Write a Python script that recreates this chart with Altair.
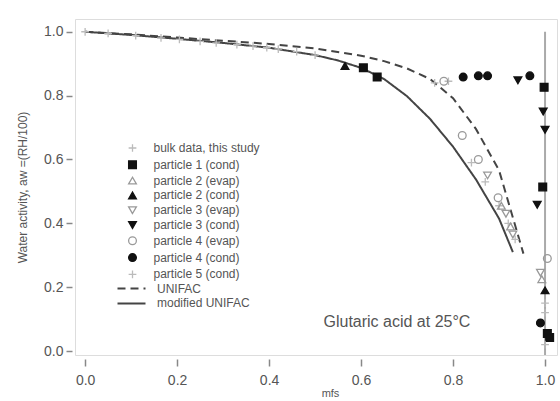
import altair as alt
import pandas as pd

# ---------------- data ----------------
series_order = [
    "bulk data, this study", "particle 1 (cond)", "particle 2 (evap)",
    "particle 2 (cond)", "particle 3 (evap)", "particle 3 (cond)",
    "particle 4 (evap)", "particle 4 (cond)", "particle 5 (cond)",
]

bulk_x = [0.0, 0.05, 0.11, 0.165, 0.205, 0.25, 0.285, 0.33, 0.365, 0.395, 0.42, 0.46, 0.50, 0.76, 0.79, 0.84, 0.87, 0.90, 0.92, 0.935, 1.0]
bulk_y = [1.0, 0.995, 0.988, 0.981, 0.976, 0.970, 0.965, 0.960, 0.955, 0.950, 0.946, 0.938, 0.927, 0.840, 0.845, 0.590, 0.530, 0.455, 0.400, 0.350, 0.150]

p1c_x = [0.605, 0.635, 0.998, 0.995, 1.005, 1.01]
p1c_y = [0.887, 0.858, 0.826, 0.514, 0.055, 0.042]

p2e_x = [0.905, 0.925, 0.993]
p2e_y = [0.455, 0.390, 0.225]

p2c_x = [0.565, 1.0]
p2c_y = [0.893, 0.190]

p3e_x = [0.875, 0.915, 0.93, 0.99]
p3e_y = [0.550, 0.430, 0.365, 0.245]

p3c_x = [0.941, 0.996, 1.0, 0.983]
p3c_y = [0.848, 0.750, 0.693, 0.458]

p4e_x = [0.78, 0.82, 0.855, 0.898, 1.005]
p4e_y = [0.845, 0.675, 0.600, 0.480, 0.290]

p4c_x = [0.822, 0.855, 0.875, 0.967, 0.99]
p4c_y = [0.858, 0.862, 0.862, 0.862, 0.088]

p5c_x = [1.0, 1.0]
p5c_y = [0.120, 0.020]

unifac_x = [0.0, 0.1, 0.2, 0.3, 0.4, 0.5, 0.6, 0.65, 0.7, 0.75, 0.8, 0.85, 0.9, 0.953]
unifac_y = [1.0, 0.992, 0.982, 0.972, 0.962, 0.948, 0.925, 0.908, 0.885, 0.852, 0.792, 0.695, 0.566, 0.305]

mod_x = [0.0, 0.1, 0.2, 0.3, 0.4, 0.5, 0.55, 0.6, 0.65, 0.7, 0.75, 0.8, 0.85, 0.9, 0.93]
mod_y = [1.0, 0.99, 0.978, 0.965, 0.950, 0.927, 0.910, 0.887, 0.852, 0.798, 0.727, 0.640, 0.537, 0.415, 0.310]

line_order = ["UNIFAC", "modified UNIFAC"]

annotation_text = ["Glutaric acid at 25°C"]
annotation_x = [0.678]
annotation_y = [0.091]

x_ticks = [0.0, 0.2, 0.4, 0.6, 0.8, 1.0]
y_ticks = [0.0, 0.2, 0.4, 0.6, 0.8, 1.0]
x_domain = [-0.022, 1.026]
y_domain = [-0.0125, 1.04]
vline_x = [1.0]

# ---------------- tables ----------------
series_xy = [
    (bulk_x, bulk_y), (p1c_x, p1c_y), (p2e_x, p2e_y), (p2c_x, p2c_y),
    (p3e_x, p3e_y), (p3c_x, p3c_y), (p4e_x, p4e_y), (p4c_x, p4c_y), (p5c_x, p5c_y),
]
rows = []
for name, (xs, ys) in zip(series_order, series_xy):
    for xv, yv in zip(xs, ys):
        rows.append({"series": name, "mfs": xv, "aw": yv})
pts = pd.DataFrame(rows)

lrows = []
for xv, yv in zip(unifac_x, unifac_y):
    lrows.append({"model": "UNIFAC", "mfs": xv, "aw": yv})
for xv, yv in zip(mod_x, mod_y):
    lrows.append({"model": "modified UNIFAC", "mfs": xv, "aw": yv})
lines_df = pd.DataFrame(lrows)

ann = pd.DataFrame({"t": annotation_text, "mfs": annotation_x, "aw": annotation_y})
vline = pd.DataFrame({"mfs": vline_x, "top": [1.0], "bot": [y_domain[0]]})

plus = "M-1,0L1,0M0,-1L0,1"
shape_range = [plus, "square", "triangle-up", "triangle-up", "triangle-down",
               "triangle-down", "circle", "circle", plus]
fill_range = ["transparent", "#111", "transparent", "#111", "transparent",
              "#111", "transparent", "#111", "transparent"]
stroke_range = ["#bbb", "#111", "#999", "#111", "#999", "#111", "#999", "#111", "#bbb"]

FONT = "Liberation Sans"
TXT = "#555"

xscale = alt.Scale(domain=x_domain, nice=False, zero=False)
yscale = alt.Scale(domain=y_domain, nice=False, zero=False)

xaxis = alt.Axis(values=x_ticks, format=".1f", title="mfs", grid=False, domain=False,
                 ticks=True, tickSize=7, tickColor="#888", tickWidth=1.5, offset=4,
                 labelPadding=7, labelFontSize=14, labelColor=TXT, labelFont=FONT,
                 titleFontSize=11, titleColor=TXT, titleFont=FONT, titleFontWeight="normal",
                 titleX=255, titleY=34, titleBaseline="middle")
yaxis = alt.Axis(values=y_ticks, format=".1f",
                 title="Water activity, aw =(RH/100)", grid=False, domain=False,
                 ticks=True, tickSize=6, tickColor="#888", tickWidth=1.5, offset=3,
                 labelPadding=3, labelFontSize=14, labelColor=TXT, labelFont=FONT,
                 titleFontSize=12, titleColor=TXT, titleFont=FONT, titleFontWeight="normal",
                 titleX=-50, titleY=168, titleAngle=-90, titleBaseline="middle", titleAlign="center")

pt_legend = alt.Legend(title=None, orient="none", legendX=51.5, legendY=123,
                       symbolSize=60, symbolStrokeWidth=1.3, labelOffset=15,
                       labelFontSize=12, labelColor=TXT, labelFont=FONT,
                       rowPadding=2.8, padding=0)
ln_legend = alt.Legend(title=None, orient="none", legendX=50.5, legendY=263.5,
                       symbolType="M-4,0L4,0", symbolSize=49, symbolStrokeWidth=2,
                       symbolStrokeColor="#444", symbolFillColor="transparent",
                       labelOffset=19.5,
                       labelFontSize=12, labelColor=TXT, labelFont=FONT,
                       rowPadding=2.9, padding=0)

rule = alt.Chart(vline).mark_rule(color="#aaa", strokeWidth=2).encode(
    x=alt.X("mfs:Q", scale=xscale, axis=xaxis),
    y=alt.Y("top:Q", scale=yscale, axis=yaxis),
    y2="bot:Q",
)

lines = alt.Chart(lines_df).mark_line(color="#444", strokeWidth=2).encode(
    x=alt.X("mfs:Q", scale=xscale, axis=xaxis),
    y=alt.Y("aw:Q", scale=yscale, axis=yaxis),
    strokeDash=alt.StrokeDash("model:N", sort=line_order,
                              scale=alt.Scale(domain=line_order, range=[[8, 5], [1, 0]]),
                              legend=ln_legend),
    order="mfs:Q",
)

points = alt.Chart(pts).mark_point(opacity=1, strokeWidth=1.3, size=60).encode(
    x=alt.X("mfs:Q", scale=xscale, axis=xaxis),
    y=alt.Y("aw:Q", scale=yscale, axis=yaxis),
    shape=alt.Shape("series:N", scale=alt.Scale(domain=series_order, range=shape_range), legend=pt_legend),
    fill=alt.Fill("series:N", scale=alt.Scale(domain=series_order, range=fill_range), legend=pt_legend),
    stroke=alt.Stroke("series:N", scale=alt.Scale(domain=series_order, range=stroke_range), legend=pt_legend),
)

text = alt.Chart(ann).mark_text(font=FONT, fontSize=16, color=TXT, align="center", baseline="middle").encode(
    x=alt.X("mfs:Q", scale=xscale, axis=xaxis),
    y=alt.Y("aw:Q", scale=yscale, axis=yaxis),
    text="t:N",
)

chart = alt.layer(rule, lines, points, text).resolve_scale(
    shape="shared", fill="shared", stroke="shared"
).properties(
    width=482, height=336,
    autosize=alt.AutoSizeParams(type="none"),
    padding={"left": 75, "top": 19, "right": 3, "bottom": 46},
).configure_view(stroke="#888", strokeWidth=2.5).configure(background="white")

chart.save("out.html", embed_options={"renderer": "svg", "actions": False})
